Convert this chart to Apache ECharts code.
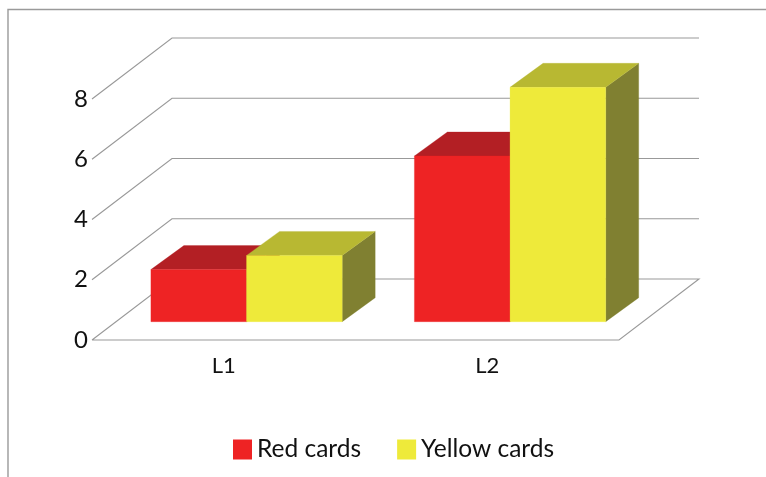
<!DOCTYPE html>
<html>
<head>
<meta charset="utf-8">
<style>html,body{margin:0;padding:0;background:#fff}#chart{width:766px;height:477px}</style>
<script src="https://cdn.jsdelivr.net/npm/echarts@6/dist/echarts.min.js"></script>
</head>
<body>
<div id="chart"></div>
<script>
// League card totals
const categories = ['L1', 'L2'];
const redCards = [1.73, 5.5];
const yellowCards = [2.2, 7.78];
const yTicks = [0, 2, 4, 6, 8];

// Oblique projection of the pseudo-3D box
const WALL = { dx: 80, dy: -61 };
const BAR_BASE = { dx: 22.8, dy: -18.3 };
const BAR_DEPTH = { dx: 33, dy: -24 };
const BAR_BAND = 0.363;
const LINE = { stroke: '#999999', lineWidth: 1.1, fill: null };

function wallLine(params, api) {
  const cs = params.coordSys;
  const y = api.coord([0, api.value(0)])[1];
  const x0 = cs.x, x1 = cs.x + cs.width;
  const pts = [[x0, y], [x0 + WALL.dx, y + WALL.dy], [x1 + WALL.dx, y + WALL.dy]];
  if (api.value(0) === 0) {
    // the floor closes along the front and right edges
    pts.push([x1, y], [x0, y]);
  }
  return {
    type: 'polyline',
    shape: { points: pts },
    style: LINE,
    silent: true
  };
}

function cuboid(slot, colors) {
  return function (params, api) {
    const base = api.coord([api.value(0), 0]);
    const top = api.coord([api.value(0), api.value(1)]);
    const w = api.size([1, 0])[0] * BAR_BAND;
    const x0 = base[0] + BAR_BASE.dx + (slot === 0 ? -w : 0);
    const x1 = x0 + w;
    const yb = base[1] + BAR_BASE.dy;
    const yt = top[1] + BAR_BASE.dy;
    const d = BAR_DEPTH;
    const poly = (points, fill) => ({
      type: 'polygon',
      shape: { points },
      style: { fill, stroke: fill, lineWidth: 0.3 }
    });
    return {
      type: 'group',
      children: [
        poly([[x1, yb], [x1 + d.dx, yb + d.dy], [x1 + d.dx, yt + d.dy], [x1, yt]], colors.side),
        poly([[x0, yt], [x0 + d.dx, yt + d.dy], [x1 + d.dx, yt + d.dy], [x1, yt]], colors.top),
        poly([[x0, yb], [x1, yb], [x1, yt], [x0, yt]], colors.front)
      ]
    };
  };
}

const FONT = 'Lato';
const chart = echarts.init(document.getElementById('chart'), null, { renderer: 'canvas' });
chart.setOption({
  animation: false,
  backgroundColor: '#fff',
  graphic: [{
    type: 'polyline',
    shape: { points: [[8, 477], [8, 9.5], [766, 9.5]] },
    style: { stroke: '#9a9a9a', lineWidth: 1.4, fill: null },
    silent: true
  }],
  grid: { left: 92, right: 147, top: 99, bottom: 137 },
  xAxis: {
    type: 'category',
    data: categories,
    axisLine: { show: false },
    axisTick: { show: false },
    splitLine: { show: false },
    axisLabel: { color: '#111', fontFamily: FONT, fontSize: 22, margin: 15 }
  },
  yAxis: {
    type: 'value',
    min: 0,
    max: 8,
    interval: 2,
    axisLine: { show: false },
    axisTick: { show: false },
    splitLine: { show: false },
    axisLabel: { color: '#111', fontFamily: FONT, fontSize: 24, margin: 4, padding: [4, 0, 0, 0] }
  },
  legend: {
    left: 228,
    top: 432,
    itemWidth: 19,
    itemHeight: 20,
    itemGap: 36,
    icon: 'rect',
    data: ['Red cards', 'Yellow cards'],
    textStyle: { color: '#111', fontFamily: FONT, fontSize: 24.5, padding: [0, 0, 4, 0] }
  },
  series: [
    {
      type: 'custom',
      name: 'walls',
      data: yTicks.map(v => [v]),
      renderItem: wallLine,
      encode: { y: 0 },
      clip: false,
      silent: true,
      z: 1
    },
    {
      type: 'custom',
      name: 'Red cards',
      data: redCards.map((v, i) => [i, v]),
      renderItem: cuboid(0, { front: '#EE2324', top: '#B31F24', side: '#8A1A1C' }),
      encode: { x: 0, y: 1 },
      itemStyle: { color: '#EE2324' },
      clip: false,
      z: 2
    },
    {
      type: 'custom',
      name: 'Yellow cards',
      data: yellowCards.map((v, i) => [i, v]),
      renderItem: cuboid(1, { front: '#EEEA3A', top: '#B8B832', side: '#808031' }),
      encode: { x: 0, y: 1 },
      itemStyle: { color: '#EEEA3A' },
      clip: false,
      z: 3
    }
  ]
});
</script>
</body>
</html>
